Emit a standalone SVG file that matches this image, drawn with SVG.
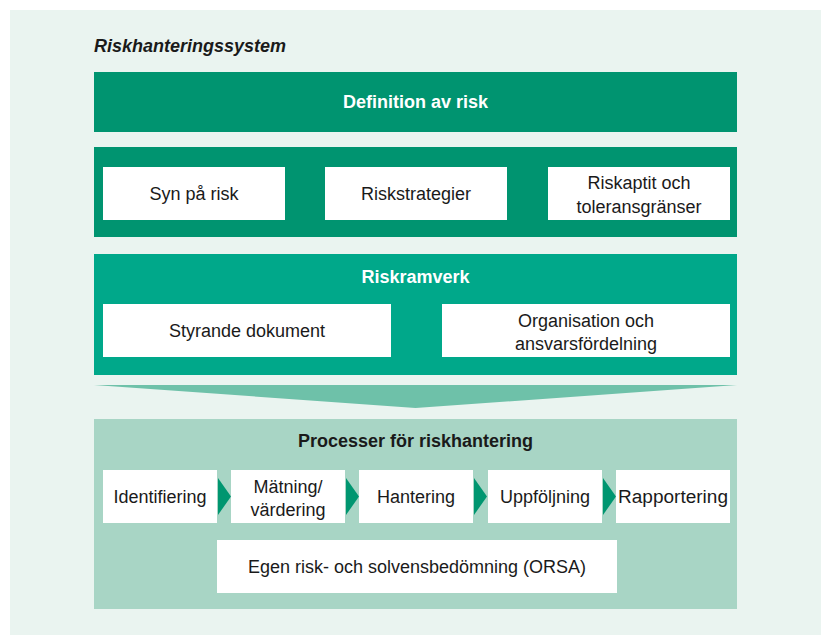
<svg xmlns="http://www.w3.org/2000/svg" width="821" height="635" viewBox="0 0 821 635">
<style>
.t{font-family:"Liberation Sans",Arial,sans-serif;font-size:18px;fill:#1a1a1a;text-anchor:middle}
.b{font-weight:bold}
.w{fill:#ffffff}
.box{fill:#ffffff}
.arr{fill:#009670}
</style>
<rect x="0" y="0" width="821" height="635" fill="#ffffff"/>
<rect x="10" y="10" width="811" height="625" fill="#EAF4F0"/>
<text x="94" y="52" style="font-family:'Liberation Sans',Arial,sans-serif;font-size:18px;font-weight:bold;font-style:italic;fill:#1a1a1a">Riskhanteringssystem</text>

<g id="definition">
<rect x="94" y="72" width="643" height="60" fill="#009470"/>
<text class="t b w" x="415.5" y="108">Definition av risk</text>
</g>

<g id="definition-group">
<rect x="94" y="147" width="643" height="90" fill="#009470"/>
</g>
<g id="syn">
<rect class="box" x="103" y="167" width="182" height="53"/>
<text class="t" x="194" y="200">Syn på risk</text>
</g>
<g id="strategier">
<rect class="box" x="325" y="167" width="182" height="53"/>
<text class="t" x="416" y="200">Riskstrategier</text>
</g>
<g id="aptit">
<rect class="box" x="548" y="167" width="182" height="53"/>
<text class="t" x="639" y="189">Riskaptit och</text>
<text class="t" x="639" y="213">toleransgränser</text>
</g>

<g id="riskramverk">
<rect x="94" y="254" width="643" height="121" fill="#00A88A"/>
<text class="t b w" x="415.5" y="283">Riskramverk</text>
</g>
<g id="styrande">
<rect class="box" x="103" y="304" width="288" height="53"/>
<text class="t" x="247" y="337">Styrande dokument</text>
</g>
<g id="organisation">
<rect class="box" x="442" y="304" width="288" height="53"/>
<text class="t" x="586" y="327">Organisation och</text>
<text class="t" x="586" y="350">ansvarsfördelning</text>
</g>

<g id="processer">
<rect x="94" y="419" width="643" height="190" fill="#A8D5C5"/>
<text class="t b" x="415.5" y="447">Processer för riskhantering</text>
</g>
<g id="identifiering">
<rect class="box" x="103" y="470" width="114" height="53"/>
<text class="t" x="160" y="503">Identifiering</text>
</g>
<g id="matning">
<rect class="box" x="231" y="470" width="114" height="53"/>
<text class="t" x="288" y="493">Mätning/</text>
<text class="t" x="288" y="516">värdering</text>
</g>
<g id="hantering">
<rect class="box" x="359" y="470" width="114" height="53"/>
<text class="t" x="416" y="503">Hantering</text>
</g>
<g id="uppfoljning">
<rect class="box" x="488" y="470" width="114" height="53"/>
<text class="t" x="545" y="503">Uppföljning</text>
</g>
<g id="rapportering">
<rect class="box" x="616" y="470" width="114" height="53"/>
<text class="t" x="673" y="503" textLength="110" lengthAdjust="spacingAndGlyphs">Rapportering</text>
</g>
<g id="orsa">
<rect class="box" x="217" y="540" width="400" height="53"/>
<text class="t" x="417" y="573">Egen risk- och solvensbedömning (ORSA)</text>
</g>

<g id="connectors">
<polygon points="94,385 737,385 415.5,408" fill="#6EC1A9"/>
<polygon class="arr" points="218,478 231,496.5 218,515"/>
<polygon class="arr" points="346,478 359,496.5 346,515"/>
<polygon class="arr" points="474,478 487,496.5 474,515"/>
<polygon class="arr" points="603,478 616,496.5 603,515"/>
</g>
</svg>
